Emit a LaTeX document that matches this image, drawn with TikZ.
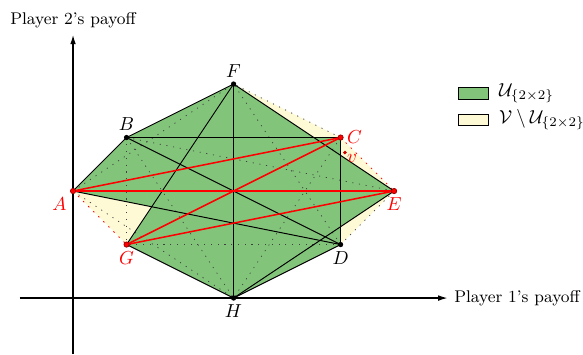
\documentclass[tikz,border=0pt]{standalone}
\usepackage{tikz}
\usetikzlibrary{arrows.meta,positioning}
\definecolor{ugreen}{RGB}{130,197,122}
\definecolor{vyellow}{RGB}{255,250,214}

\begin{document}
\begin{tikzpicture}[scale=1,
  seg/.style={line width=0.5pt},
  redseg/.style={red,line width=0.8pt},
  diag/.style={black!75,dash pattern=on 0.6pt off 3pt},
  reddiag/.style={red,dash pattern=on 0.8pt off 3pt},
  axis/.style={line width=0.7pt,-{Latex[length=5pt,width=3pt]}},
  legbox/.style={draw,inner sep=0pt,minimum width=0.56cm,minimum height=0.22cm}]
\useasboundingbox (-1.365,-1.047) rectangle (9.53,5.57);
\coordinate (A) at (0,2); \coordinate (B) at (1,3); \coordinate (C) at (5,3); \coordinate (D) at (5,1);
\coordinate (E) at (6,2); \coordinate (F) at (3,4); \coordinate (G) at (1,1); \coordinate (H) at (3,0);
\coordinate (v) at (5.08,2.72);
\coordinate (P) at (intersection of F--E and B--C);
\coordinate (Q) at (intersection of F--E and C--D);
\coordinate (R) at (intersection of H--E and C--D);
\coordinate (X) at (intersection of A--D and G--F);
\coordinate (xs) at (-1,0); \coordinate (xe) at (7,0);
\coordinate (ys) at (0,-1.05); \coordinate (ye) at (0,4.92);
\draw[axis] (xs)--(xe);
\draw[axis] (ys)--(ye);
\node[right] (xlab) at (xe) {\small Player 1's payoff};
\node[above] (ylab) at (ye) {\small Player 2's payoff};
\fill[vyellow] (A)--(B)--(F)--(C)--(E)--(D)--(H)--(G)--cycle;
\fill[ugreen] (A)--(B)--(F)--(P)--(C)--(Q)--(E)--(R)--(D)--(H)--(G)--(X)--cycle;
\foreach \a/\b in {A/F,A/H,B/E,B/G,B/H,C/F,C/H,D/E,D/F,D/G}{\draw[diag] (\a)--(\b);}
\foreach \a/\b in {A/G,C/E}{\draw[reddiag] (\a)--(\b);}
\foreach \a/\b in {A/B,B/F,F/E,H/G,H/D,C/D,B/C,F/H,B/D,A/D,G/F,H/E}{\draw[seg] (\a)--(\b);}
\foreach \a/\b in {A/E,A/C,G/C,G/E}{\draw[redseg] (\a)--(\b);}
\foreach \p in {B,D,F,H}{\fill (\p) circle (1.4pt);}
\foreach \p in {A,C,E,G}{\filldraw[fill=red,draw=red!60!black] (\p) circle (1.4pt);}
\fill[red!80!black] (v) circle (1pt);
\foreach \p/\pos in {B/above,D/below,F/above,H/below}{\node[\pos] at (\p) {$\p$};}
\foreach \p/\pos in {A/below left,C/right,E/below,G/below}{\node[\pos,red] at (\p) {$\p$};}
\node[anchor=north west,red,inner sep=0pt,xshift=1pt,yshift=-1pt] (vlab) at (v) {$v$};
\node[legbox,fill=ugreen] (lu) at (7.48,3.83) {};
\node[right=2pt of lu] (lutext) {$\mathcal{U}_{\{2\times 2\}}$};
\node[legbox,fill=vyellow] (lv) at (7.48,3.33) {};
\node[right=2pt of lv] (lvtext) {$\mathcal{V}\setminus\mathcal{U}_{\{2\times 2\}}$};
\end{tikzpicture}
\end{document}
